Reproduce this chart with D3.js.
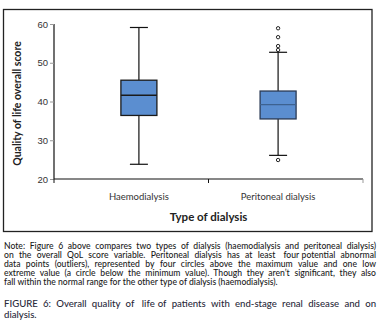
<!DOCTYPE html>
<html>
<head>
<meta charset="utf-8">
<script src="https://cdn.jsdelivr.net/npm/d3@7"></script>
<style>
  body { margin: 0; background: #fff; }
  svg { display: block; font-family: Lato, "Open Sans", sans-serif; }
</style>
</head>
<body>
<div id="chart"></div>
<script>
// data
const categories = ["Haemodialysis", "Peritoneal dialysis"];
const q1 = [36.4, 35.5];
const medians = [41.6, 39.2];
const q3 = [45.5, 42.7];
const whiskLow = [23.8, 26.1];
const whiskHigh = [59.1, 52.7];
const outliers = [[], [58.9, 56.6, 54.3, 53.3, 24.9]];
const yTicks = [20, 30, 40, 50, 60];

const noteLines = [
  "Note: Figure 6 above compares two types of dialysis (haemodialysis and peritoneal dialysis)",
  "on the overall QoL score variable. Peritoneal dialysis has at least four potential abnormal",
  "data points (outliers), represented by four circles above the maximum value and one low",
  "extreme value (a circle below the minimum value). Though they aren\u2019t significant, they also",
  "fall within the normal range for the other type of dialysis (haemodialysis)."
];
const captionLines = [
  "FIGURE 6: Overall quality of life of patients with end-stage renal disease and on",
  "dialysis."
];

const W = 380, H = 329;
const margin = { left: 54, right: 17, top: 24, bottom: 150 };
const plotW = W - margin.left - margin.right;
const plotH = H - margin.top - margin.bottom;

const svg = d3.select("#chart").append("svg")
  .attr("width", W)
  .attr("height", H);

// outer frame
svg.append("rect")
  .attr("x", 3.5).attr("y", 9.5)
  .attr("width", 368.5).attr("height", 222)
  .attr("fill", "none")
  .attr("stroke", "#222")
  .attr("stroke-width", 1.3);

const g = svg.append("g")
  .attr("transform", `translate(${margin.left},${margin.top})`);

const xScale = d3.scalePoint()
  .domain(categories)
  .range([0, plotW])
  .padding(0.61);

const yScale = d3.scaleLinear()
  .domain([20, 60])
  .range([plotH, 0]);

// y axis
const yAxis = d3.axisLeft(yScale).tickValues(yTicks).tickSize(4).tickPadding(2);
const yG = g.append("g").call(yAxis);
yG.select(".domain").attr("stroke", "#111").attr("stroke-width", 1.2).attr("d", `M0,${plotH}V0`);
yG.selectAll(".tick line").attr("stroke", "#999");
yG.selectAll(".tick text").attr("fill", "#333").style("font-size", "9.5px");

// x axis with ticks on the category boundaries
g.append("line")
  .attr("x1", 0).attr("x2", plotW)
  .attr("y1", plotH).attr("y2", plotH)
  .attr("stroke", "#111").attr("stroke-width", 1.2);
const bounds = [0, (xScale(categories[0]) + xScale(categories[1])) / 2, plotW];
g.selectAll(".xb").data(bounds).enter().append("line")
  .attr("x1", d => d).attr("x2", d => d)
  .attr("y1", plotH).attr("y2", plotH + 4)
  .attr("stroke", (d, i) => i === 2 ? "#999" : "#111")
  .attr("stroke-width", 1);

g.selectAll(".xl").data(categories).enter().append("text")
  .attr("x", d => xScale(d))
  .attr("y", plotH + 21)
  .attr("text-anchor", "middle")
  .attr("fill", "#333")
  .style("font-size", "9.5px")
  .text(d => d);

// boxes
const boxW = 36, capW = 18;
categories.forEach((c, i) => {
  const cx = xScale(c);
  const stem = g.append("g");
  stem.append("line")
    .attr("x1", cx).attr("x2", cx)
    .attr("y1", yScale(whiskHigh[i])).attr("y2", yScale(q3[i]))
    .attr("stroke", "#111").attr("stroke-width", 1.2);
  stem.append("line")
    .attr("x1", cx).attr("x2", cx)
    .attr("y1", yScale(q1[i])).attr("y2", yScale(whiskLow[i]))
    .attr("stroke", "#111").attr("stroke-width", 1.2);
  [whiskHigh[i], whiskLow[i]].forEach(v => {
    stem.append("line")
      .attr("x1", cx - capW / 2).attr("x2", cx + capW / 2)
      .attr("y1", yScale(v)).attr("y2", yScale(v))
      .attr("stroke", "#111").attr("stroke-width", 1.2);
  });
  g.append("rect")
    .attr("x", cx - boxW / 2)
    .attr("y", yScale(q3[i]))
    .attr("width", boxW)
    .attr("height", yScale(q1[i]) - yScale(q3[i]))
    .attr("fill", "#5b8ed0")
    .attr("stroke", i === 0 ? "#1a1a1a" : "#2a3a55")
    .attr("stroke-width", 1.3);
  g.append("line")
    .attr("x1", cx - boxW / 2).attr("x2", cx + boxW / 2)
    .attr("y1", yScale(medians[i])).attr("y2", yScale(medians[i]))
    .attr("stroke", i === 0 ? "#1a1a1a" : "#3d6290")
    .attr("stroke-width", 1.4);
  g.selectAll(null).data(outliers[i]).enter().append("circle")
    .attr("cx", cx)
    .attr("cy", d => yScale(d))
    .attr("r", 1.7)
    .attr("fill", "none")
    .attr("stroke", "#222")
    .attr("stroke-width", 1);
});

// axis titles
svg.append("text")
  .attr("transform", `translate(21,${margin.top + plotH / 2 + 2}) rotate(-90)`)
  .attr("text-anchor", "middle")
  .style("font-size", "10.5px")
  .style("font-weight", "bold")
  .attr("fill", "#222")
  .text("Quality of life overall score");

svg.append("text")
  .attr("x", margin.left + bounds[1])
  .attr("y", 221)
  .attr("text-anchor", "middle")
  .style("font-size", "11.5px")
  .style("font-weight", "bold")
  .attr("fill", "#222")
  .text("Type of dialysis");

// justified paragraph lines, one text element per line
function drawLines(lines, y0, lh, size, color, weight) {
  const left = 4, right = 376;
  lines.forEach((line, li) => {
    const y = y0 + li * lh;
    const last = li === lines.length - 1;
    const words = line.split(" ");
    const t = svg.append("text")
      .attr("y", y)
      .style("font-size", size + "px")
      .style("font-weight", weight)
      .attr("fill", color);
    const spans = words.map(w => t.append("tspan").text(w));
    const widths = spans.map(s => s.node().getComputedTextLength());
    const space = last ? size * 0.25
      : (right - left - d3.sum(widths)) / (words.length - 1);
    let x = left;
    spans.forEach((s, k) => {
      s.attr("x", x);
      x += widths[k] + space;
    });
  });
}

drawLines(noteLines, 249, 9.1, 8.6, "#1a1a1a", "500");
drawLines(captionLines, 307, 11, 9.6, "#2a2a3a", "500");
</script>
</body>
</html>
